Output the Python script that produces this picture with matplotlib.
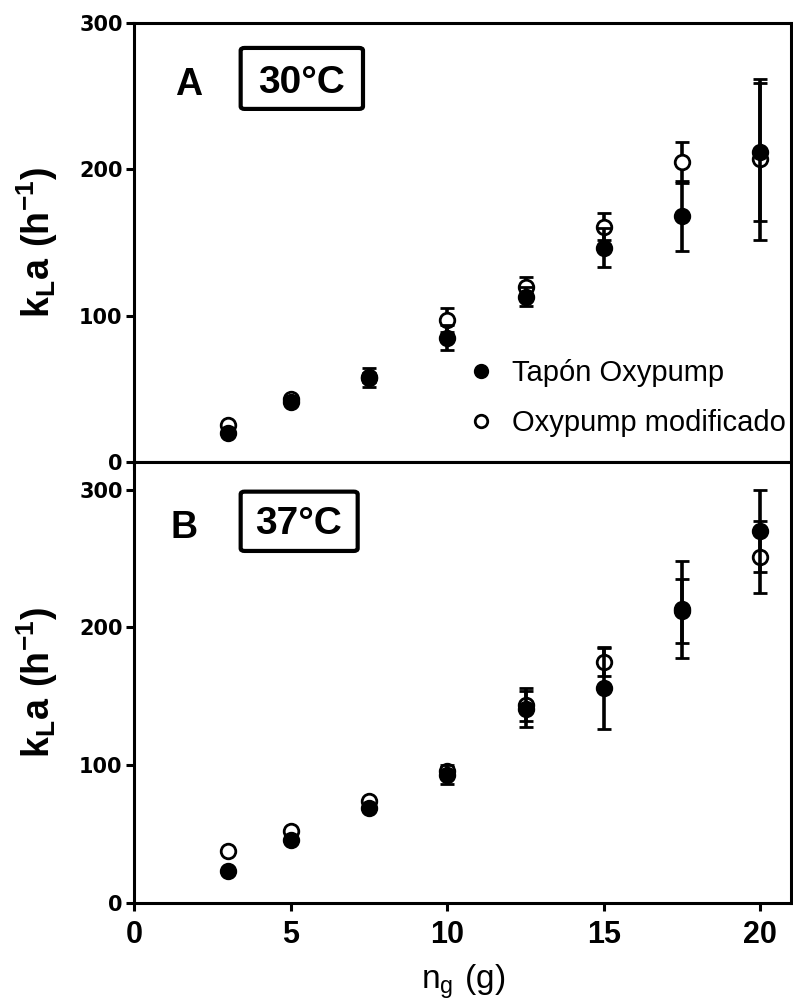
import matplotlib

matplotlib.use("Agg")

import matplotlib.pyplot as plt
from matplotlib.lines import Line2D
from matplotlib.patches import FancyBboxPatch

# Gas mass (g) used in each run
n_g = [3, 5, 7.5, 10, 12.5, 15, 17.5, 20]

# kLa (h^-1) at 30 °C
kla_30_tapon = [20, 41, 57.5, 85, 113, 146.5, 168, 212]
err_30_tapon = [2, 2, 6.5, 8.5, 6.5, 13.5, 24, 47]
kla_30_mod = [25, 43, 58, 97, 119.5, 161, 205, 207]
err_30_mod = [1.5, 1.5, 3, 8, 7, 9, 14, 55]

# kLa (h^-1) at 37 °C
kla_37_tapon = [23, 45.8, 68.8, 93, 141, 156, 213, 270]
err_37_tapon = [1, 2, 2, 7, 13, 30, 35, 30]
kla_37_mod = [38, 52, 74, 96, 144, 175, 212, 251]
err_37_mod = [1, 2, 2, 3, 12, 10, 23, 26]

series_labels = ["Tapón Oxypump", "Oxypump modificado"]
y_ticks = [0, 100, 200, 300]
x_ticks = [0, 5, 10, 15, 20]

plt.rcParams.update(
    {
        "font.family": "Liberation Sans",
        "mathtext.fontset": "custom",
        "mathtext.rm": "Liberation Sans",
        "mathtext.bf": "Liberation Sans:bold",
        "axes.linewidth": 2.2,
    }
)

fig = plt.figure(figsize=(7.93, 10.06), dpi=100)
ax_top = fig.add_axes([0.1696, 0.5408, 0.8285, 0.4361])
ax_bot = fig.add_axes([0.1696, 0.1024, 0.8285, 0.4384])

MS = 10.5
MEW = 2.0
err_kw = dict(ecolor="black", elinewidth=2.6, capsize=4.8, capthick=2.6, linestyle="none")


def draw_series(ax, tapon, err_tapon, mod, err_mod):
    # open symbols first so the filled ones sit on top
    ax.errorbar(n_g, mod, yerr=err_mod, marker="o", markersize=MS, markeredgewidth=MEW,
                markerfacecolor="white", markeredgecolor="black", zorder=3, **err_kw)
    ax.errorbar(n_g, tapon, yerr=err_tapon, marker="o", markersize=MS, markeredgewidth=MEW,
                markerfacecolor="black", markeredgecolor="black", zorder=4, **err_kw)


def style(ax, ymax):
    ax.set_xlim(0, 21)
    ax.set_ylim(0, ymax)
    ax.set_xticks(x_ticks)
    ax.set_yticks(y_ticks)
    ax.tick_params(axis="both", direction="out", length=5.5, width=2.2, color="black")
    ax.tick_params(axis="y", pad=3)
    ax.tick_params(axis="x", pad=7)
    for lab in ax.get_yticklabels():
        lab.set_fontfamily("DejaVu Sans")
        lab.set_fontweight("bold")
        lab.set_fontsize(15)
    for lab in ax.get_xticklabels():
        lab.set_fontweight("bold")
        lab.set_fontsize(22)
    ax.set_ylabel(r"$\mathbf{k_{L}a\ (h^{-1})}$", fontsize=27)
    ax.yaxis.set_label_coords(-0.113, 0.5)


def tag(ax, letter, temp, box, letter_xy, temp_xy):
    ax.text(*letter_xy, letter, transform=ax.transAxes, fontsize=27, fontweight="bold",
            ha="center", va="baseline")
    x0, y0, x1, y1 = box
    ax.add_patch(FancyBboxPatch((x0, y0), x1 - x0, y1 - y0, transform=ax.transAxes,
                                boxstyle="round,pad=0,rounding_size=0.006",
                                facecolor="white", edgecolor="black", linewidth=3, zorder=5))
    ax.text(*temp_xy, temp, transform=ax.transAxes, fontsize=28, fontweight="bold",
            ha="center", va="baseline", zorder=6)


draw_series(ax_top, kla_30_tapon, err_30_tapon, kla_30_mod, err_30_mod)
draw_series(ax_bot, kla_37_tapon, err_37_tapon, kla_37_mod, err_37_mod)
style(ax_top, 300)
style(ax_bot, 320)
ax_top.tick_params(axis="x", labelbottom=False)

tag(ax_top, "A", "30°C", (0.1616, 0.8047, 0.3478, 0.9437), (0.0819, 0.8366), (0.2542, 0.8404))
tag(ax_bot, "B", "37°C", (0.1616, 0.7982, 0.3397, 0.9327), (0.0749, 0.828), (0.2489, 0.836))

ax_bot.set_xlabel(r"$\mathregular{n_g\ (g)}$", fontsize=24)
ax_bot.xaxis.set_label_coords(0.5, -0.135)

handles = [
    Line2D([], [], linestyle="none", marker="o", markersize=9, markeredgewidth=MEW,
           markerfacecolor="black", markeredgecolor="black"),
    Line2D([], [], linestyle="none", marker="o", markersize=9, markeredgewidth=MEW,
           markerfacecolor="white", markeredgecolor="black"),
]
ax_top.legend(handles, series_labels, loc="upper left", bbox_to_anchor=(0.5096, 0.235),
              frameon=False, fontsize=21, handlelength=0.8, handletextpad=0.68,
              labelspacing=0.76, borderpad=0, borderaxespad=0)

fig.savefig("out.png", dpi=100, facecolor="white")
